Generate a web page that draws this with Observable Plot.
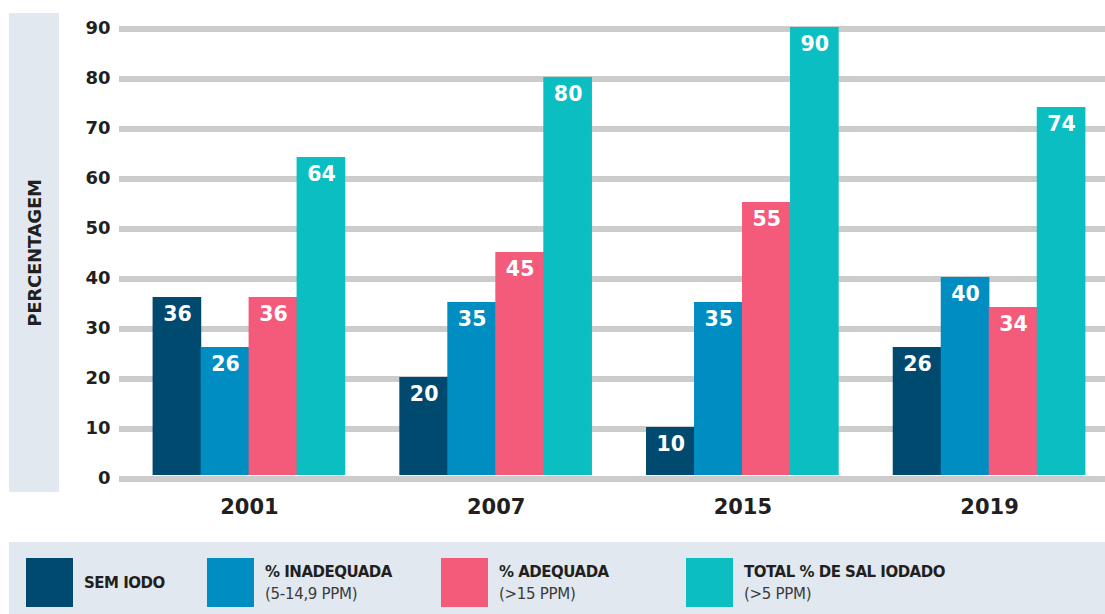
<!DOCTYPE html>
<html>
<head>
<meta charset="utf-8">
<script src="https://cdn.jsdelivr.net/npm/d3@7"></script>
<script src="https://cdn.jsdelivr.net/npm/@observablehq/plot@0.6"></script>
<style>
  html, body { margin: 0; padding: 0; background: #ffffff; }
  #wrap { position: relative; width: 1105px; height: 614px; overflow: hidden; font-family: "DejaVu Sans", sans-serif; color: #231f20; }
  #ybox { position: absolute; left: 9px; top: 13px; width: 50px; height: 479px; background: #e1e8ef; }
  #ybox span { position: absolute; left: 50%; top: 50%; transform: translate(-50%, -50%) rotate(-90deg); white-space: nowrap; font-weight: bold; font-size: 18px; letter-spacing: -0.2px; }
  #chart { position: absolute; left: 0; top: 0; }
  #legend { position: absolute; left: 9px; top: 542px; width: 1096px; height: 72px; background: #e1e8ef; }
  .item { position: absolute; top: 16px; height: 49px; display: flex; align-items: center; }
  .sw { width: 47px; height: 49px; flex: none; }
  .txt { margin-left: 11px; line-height: 22px; font-size: 15px; }
  .txt b { display: block; font-weight: bold; letter-spacing: -0.5px; }
  .txt i { display: block; font-style: normal; color: #3c3a3b; letter-spacing: -0.3px; }
</style>
</head>
<body>
<div id="wrap">
  <div id="ybox"><span>PERCENTAGEM</span></div>
  <div id="chart"></div>
  <div id="legend"></div>
</div>
<script>
// ---- data ----
const years = ["2001", "2007", "2015", "2019"];
const seriesNames = ["SEM IODO", "% INADEQUADA", "% ADEQUADA", "TOTAL % DE SAL IODADO"];
const seriesSub = ["", "(5-14,9 PPM)", "(>15 PPM)", "(>5 PPM)"];
const semIodo = [36, 20, 10, 26];
const inadequada = [26, 35, 35, 40];
const adequada = [36, 45, 55, 34];
const totalIodado = [64, 80, 90, 74];
const yTicks = [0, 10, 20, 30, 40, 50, 60, 70, 80, 90];

// ---- style ----
const colors = ["#00496f", "#008dc2", "#f45a79", "#0abec2"];
const legendLeft = [17, 198, 432, 677];
const subW = 48; // width of each bar within a group

const seriesValues = [semIodo, inadequada, adequada, totalIodado];
const rows = [];
seriesValues.forEach((vals, si) => {
  vals.forEach((v, yi) => rows.push({year: years[yi], series: seriesNames[si], si, value: v}));
});

const marks = [
  Plot.ruleY(yTicks, {stroke: "#cccccc", strokeWidth: 6, dy: 1.5})
];
seriesNames.forEach((name, si) => {
  const data = rows.filter(d => d.si === si);
  marks.push(Plot.barY(data, {
    x: "year", y: "value", fill: colors[si],
    insetLeft: subW * si - 0.3, insetRight: subW * (3 - si) - 0.3, insetBottom: 2
  }));
  marks.push(Plot.text(data, {
    x: "year", y: "value", text: d => String(d.value),
    dx: -1.5 * subW + subW * si, dy: 17,
    fill: "white", fontSize: 20.5, fontWeight: "bold", lineAnchor: "middle"
  }));
});
marks.push(Plot.axisY({ticks: yTicks, tickSize: 0, tickPadding: 9, fontSize: 18, fontWeight: "bold", label: null, dy: 1}));
marks.push(Plot.axisX({tickSize: 0, tickPadding: 22, fontSize: 21, fontWeight: "bold", label: null}));

const chart = Plot.plot({
  width: 1105,
  height: 535,
  marginLeft: 119,
  marginRight: 0,
  marginTop: 27,
  marginBottom: 58,
  style: {background: "none", fontFamily: "DejaVu Sans, sans-serif", color: "#231f20", overflow: "visible"},
  x: {domain: years, paddingInner: 0.2216, paddingOuter: 0.109, align: 0.63, round: false},
  y: {domain: [0, 90]},
  marks
});
document.getElementById("chart").appendChild(chart);

const legend = document.getElementById("legend");
seriesNames.forEach((name, i) => {
  const it = document.createElement("div");
  it.className = "item";
  it.style.left = legendLeft[i] + "px";
  const sw = document.createElement("div");
  sw.className = "sw";
  sw.style.background = colors[i];
  const txt = document.createElement("div");
  txt.className = "txt";
  const b = document.createElement("b");
  b.textContent = name;
  txt.appendChild(b);
  if (seriesSub[i]) {
    const s = document.createElement("i");
    s.textContent = seriesSub[i];
    txt.appendChild(s);
  }
  it.appendChild(sw);
  it.appendChild(txt);
  legend.appendChild(it);
});
</script>
</body>
</html>
